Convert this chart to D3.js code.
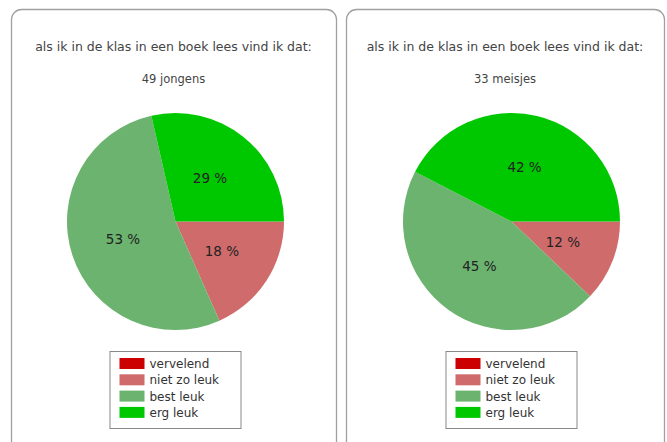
<!DOCTYPE html>
<html lang="nl">
<head>
    <meta charset="UTF-8">
    <title>als ik in de klas in een boek lees</title>
    <script src="https://cdnjs.cloudflare.com/ajax/libs/d3/7.8.5/d3.min.js"></script>
    <style>
        body { margin: 0; background: #ffffff; }
        text { font-family: "DejaVu Sans", Verdana, sans-serif; }
    </style>
</head>
<body>
    <script>
        // categories and counts per group
        var categories = ["vervelend", "niet zo leuk", "best leuk", "erg leuk"];
        var colors = ["#cc0000", "#cf6b6b", "#6bb36f", "#00c800"];
        var title = "als ik in de klas in een boek lees vind ik dat:";
        var groupLabels = ["49 jongens", "33 meisjes"];
        var boysCounts = [0, 9, 26, 14];
        var girlsCounts = [0, 4, 15, 14];

        var width = 667, height = 442;
        var svg = d3.select("body").append("svg")
            .attr("width", width)
            .attr("height", height);

        var color = d3.scaleOrdinal().domain(categories).range(colors);
        var radius = 108.5;

        var pie = d3.pie()
            .sort(null)
            .value(function(d){ return d.value; })
            .startAngle(Math.PI / 2)
            .endAngle(Math.PI / 2 + 2 * Math.PI);
        var arc = d3.arc().innerRadius(0).outerRadius(radius);
        var labelArc = d3.arc().innerRadius(0).outerRadius(radius * 1.02);

        var panels = [
            { x: 11, w: 325, cx: 175.5, label: groupLabels[0], counts: boysCounts },
            { x: 346, w: 318, cx: 511.5, label: groupLabels[1], counts: girlsCounts }
        ];

        panels.forEach(function(p){
            var g = svg.append("g");
            // panel box (bottom runs off the picture)
            g.append("rect")
                .attr("x", p.x + 0.5).attr("y", 9.5)
                .attr("width", p.w).attr("height", 450)
                .attr("rx", 10).attr("ry", 10)
                .attr("fill", "#ffffff")
                .attr("stroke", "#a0a0a0")
                .attr("stroke-width", 1.3);

            var mid = p.x + p.w / 2;
            g.append("text")
                .attr("x", mid).attr("y", 51)
                .attr("text-anchor", "middle")
                .attr("font-size", 12.5)
                .attr("fill", "#444")
                .text(title);
            g.append("text")
                .attr("x", mid).attr("y", 83)
                .attr("text-anchor", "middle")
                .attr("font-size", 11.5)
                .attr("fill", "#444")
                .text(p.label);

            var total = d3.sum(p.counts);
            var rows = categories.map(function(c, i){ return { name: c, value: p.counts[i] }; });
            var arcs = pie(rows);

            var pg = g.append("g").attr("transform", "translate(" + p.cx + ",221.5)");
            pg.selectAll("path")
                .data(arcs.filter(function(d){ return d.data.value > 0; }))
                .enter().append("path")
                .attr("d", arc)
                .attr("fill", function(d){ return color(d.data.name); });
            pg.selectAll("text")
                .data(arcs.filter(function(d){ return d.data.value > 0; }))
                .enter().append("text")
                .attr("transform", function(d){ return "translate(" + labelArc.centroid(d) + ")"; })
                .attr("text-anchor", "middle")
                .attr("dy", "0.35em")
                .attr("font-size", 13.5)
                .attr("fill", "#222")
                .text(function(d){ return Math.round(d.data.value / total * 100) + " %"; });

            // legend
            var lx = p.cx - 66, ly = 351;
            var lg = g.append("g").attr("transform", "translate(" + lx + "," + ly + ")");
            lg.append("rect")
                .attr("x", 0.5).attr("y", 0.5)
                .attr("width", 131).attr("height", 77)
                .attr("fill", "#fff")
                .attr("stroke", "#888");
            var item = lg.selectAll("g.item")
                .data(categories)
                .enter().append("g")
                .attr("transform", function(d, i){ return "translate(10," + (7 + i * 16.3) + ")"; });
            item.append("rect")
                .attr("width", 25).attr("height", 11)
                .attr("fill", function(d){ return color(d); });
            item.append("text")
                .attr("x", 30).attr("y", 10)
                .attr("font-size", 12)
                .attr("fill", "#333")
                .text(function(d){ return d; });
        });
    </script>
</body>
</html>
